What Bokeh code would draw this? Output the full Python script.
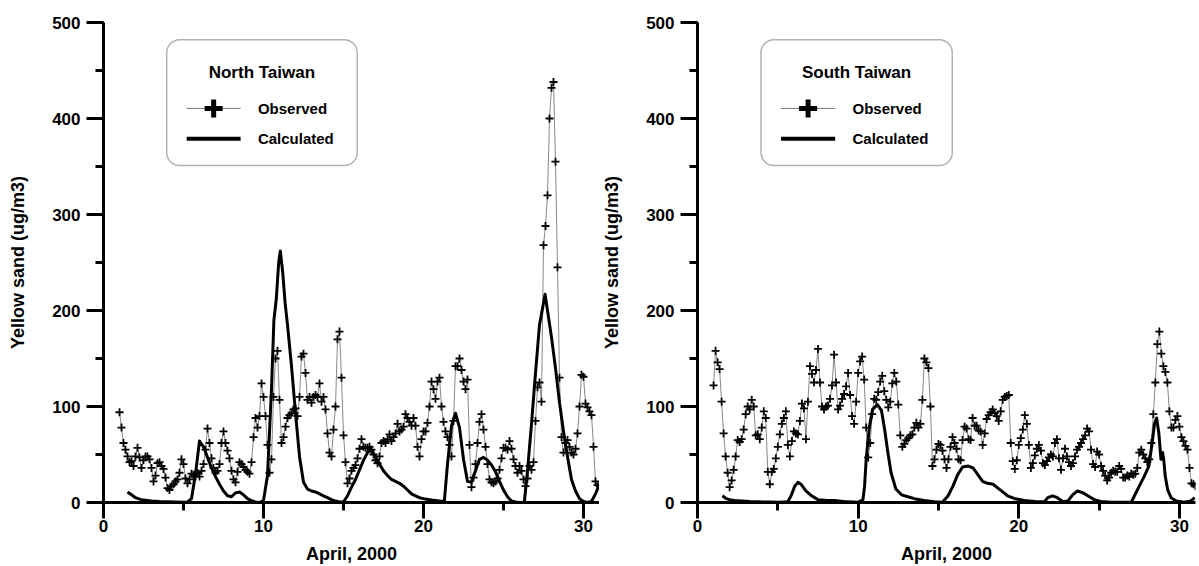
import numpy as np
from bokeh.plotting import figure
from bokeh.layouts import row
from bokeh.models import SingleIntervalTicker, Range1d, BoxAnnotation, Label
from bokeh.embed import file_html
from bokeh.resources import INLINE

# ---------------- data ----------------
x_label = "April, 2000"
y_label = "Yellow sand (ug/m3)"
panel_titles = ["North Taiwan", "South Taiwan"]
series_names = ["Observed", "Calculated"]
x_tick_interval = 10
y_tick_interval = 100

# observed: 3-hourly readings starting April 1, 00h (day 1.0)
OBS_START = 1.0
OBS_STEP = 0.125

north_obs = [
    94, 78, 62, 55, 48, 42, 43, 38,
    48, 57, 47, 36, 44, 48, 48, 45,
    36, 22, 28, 41, 42, 38, 35, 26,
    15, 13, 17, 19, 22, 24, 31, 45,
    40, 25, 20, 24, 30, 29, 27, 31,
    27, 33, 40, 55, 77, 62, 46, 36,
    31, 33, 40, 62, 74, 62, 54, 46,
    33, 24, 21, 32, 42, 40, 37, 34,
    32, 30, 42, 68, 88, 78, 90, 124,
    110, 90, 60, 31, 45, 110, 150, 158,
    107, 62, 68, 79, 88, 91, 93, 97,
    98, 90, 110, 152, 155, 135, 107, 110,
    104, 110, 112, 110, 124, 105, 110, 97,
    72, 52, 48, 76, 100, 170, 178, 130,
    70, 42, 20, 25, 33, 36, 39, 46,
    56, 66, 58, 57, 57, 58, 55, 50,
    44, 41, 48, 62, 64, 62, 66, 71,
    64, 68, 72, 82, 74, 76, 79, 92,
    88, 84, 80, 88, 80, 58, 48, 66,
    74, 74, 83, 100, 126, 118, 108, 126,
    130, 100, 84, 74, 68, 60, 48, 85,
    142, 142, 150, 138, 126, 118, 128, 60,
    16, 26, 40, 62, 84, 92, 76, 58,
    40, 24, 21, 20, 22, 25, 34, 46,
    57, 57, 55, 64, 56, 45, 38, 31,
    38, 33, 24, 17, 25, 38, 34, 42,
    85, 120, 125, 105, 268, 288, 320, 400,
    432, 438, 355, 245, 130, 68, 52, 62,
    65, 58, 52, 50, 56, 72, 100, 133,
    131, 103, 99, 95, 91, 58, 22, 18,
    17,
]

north_calc_days = [
    1.5, 1.75, 2.0, 2.25, 2.5, 2.75, 3.0, 3.5, 4.0, 4.5, 5.0, 5.25, 5.5, 5.75,
    6.0, 6.25, 6.5, 6.75, 7.0, 7.25, 7.5, 7.75, 8.0, 8.25, 8.5, 8.75, 9.0, 9.25,
    9.5, 9.75, 10.0, 10.25, 10.5, 10.65, 10.8, 10.95, 11.05, 11.2, 11.35, 11.5,
    11.75, 12.0, 12.25, 12.5, 12.75, 13.0, 13.25, 13.5, 13.75, 14.0, 14.25, 14.5,
    14.75, 15.0, 15.25, 15.5, 15.75, 16.0, 16.25, 16.5, 16.75, 17.0, 17.25, 17.5,
    17.75, 18.0, 18.25, 18.5, 18.75, 19.0, 19.25, 19.5, 19.75, 20.0, 20.5, 21.0,
    21.3, 21.5, 21.75, 22.0, 22.25, 22.5, 22.75, 23.0, 23.25, 23.5, 23.75, 24.0,
    24.25, 24.5, 24.75, 25.0, 25.25, 25.5, 25.75, 26.0, 26.3, 26.5, 26.75, 27.0,
    27.25, 27.6, 27.75, 28.0, 28.25, 28.5, 28.75, 29.0, 29.25, 29.5, 29.75, 30.0,
    30.25, 30.5, 30.75, 31.0,
]
north_calc = [
    11, 8, 5, 3.5, 2.5, 2, 1.5, 1, 0.8, 0.5, 0.3, 0.5, 4, 30,
    64, 58, 47, 36, 27, 19, 12, 7, 6, 10, 11, 8, 4, 2,
    0.5, 0, 2, 28, 118, 190, 212, 250, 262, 240, 208, 185,
    142, 93, 48, 21, 14, 12, 11, 9, 7, 5, 3, 1.5,
    0.5, 0.5, 7, 16, 24, 34, 44, 52, 55, 47, 40, 33,
    28, 24, 22, 20, 17, 13, 9, 7, 5, 4, 2.5, 1.5,
    1, 40, 80, 93, 78, 45, 22, 21, 33, 45, 47, 44,
    39, 32, 22, 13, 6, 1.5, 0.5, 0, 0, 33, 82, 135,
    185, 217, 200, 172, 140, 104, 74, 48, 24, 12, 4, 1,
    0, 1, 9, 19,
]

south_obs = [
    122, 158, 146, 139, 105, 72, 48, 31,
    16, 23, 34, 48, 65, 63, 66, 76,
    92, 100, 97, 107, 100, 70, 71, 66,
    78, 95, 88, 32, 19, 32, 35, 46,
    58, 71, 82, 88, 95, 60, 48, 64,
    74, 72, 71, 85, 103, 98, 66, 105,
    142, 134, 125, 138, 160, 125, 100, 97,
    100, 101, 108, 122, 154, 125, 97, 101,
    108, 113, 121, 135, 112, 90, 82, 105,
    135, 147, 152, 128, 78, 47, 62, 92,
    108, 107, 115, 126, 132, 116, 107, 99,
    105, 124, 135, 126, 102, 70, 58, 61,
    65, 67, 70, 71, 78, 83, 78, 82,
    107, 150, 146, 140, 100, 38, 45, 55,
    61, 60, 54, 45, 36, 45, 58, 68,
    62, 56, 45, 44, 65, 79, 77, 66,
    65, 88, 80, 80, 75, 74, 60, 72,
    87, 91, 94, 97, 93, 90, 85, 95,
    107, 110, 111, 112, 62, 43, 35, 44,
    60, 67, 76, 91, 82, 60, 36, 41,
    49, 56, 60, 54, 41, 39, 43, 47,
    50, 48, 62, 66, 46, 34, 46, 56,
    48, 42, 38, 41, 48, 55, 58, 62,
    66, 70, 77, 74, 55, 40, 37, 53,
    50, 38, 33, 28, 23, 26, 31, 33,
    32, 32, 38, 35, 26, 26, 28, 27,
    30, 29, 30, 36, 52, 55, 50, 46,
    42, 45, 62, 92, 125, 165, 178, 155,
    142, 136, 125, 95, 78, 78, 86, 90,
    79, 68, 64, 59, 55, 36, 20, 19,
    17,
]

south_calc_days = [
    1.55, 1.8, 2.0, 2.3, 2.75, 3.25, 3.75, 4.5, 5.0, 5.5, 5.65, 5.85, 6.05, 6.25,
    6.45, 6.75, 7.1, 7.5, 8.1, 8.5, 9.1, 10.0, 10.3, 10.4, 10.5, 10.7, 10.9, 11.2,
    11.45, 11.65, 11.85, 12.05, 12.35, 12.7, 13.1, 13.5, 14.1, 14.75, 15.25, 15.6,
    15.9, 16.2, 16.5, 16.85, 17.15, 17.45, 17.75, 18.05, 18.4, 18.7, 19.0, 19.3,
    19.75, 20.35, 21.0, 21.6, 21.8, 22.1, 22.4, 22.75, 23.05, 23.35, 23.65, 24.0,
    24.3, 24.7, 25.1, 25.75, 27.0, 27.2, 27.5, 27.8, 28.1, 28.3, 28.45, 28.58,
    28.72, 28.85, 28.95, 29.02, 29.12, 29.27, 29.48, 29.8, 30.3, 30.7, 30.95,
]
south_calc = [
    7, 4, 3, 2, 1.5, 1, 0.7, 0.4, 0.3, 0.5, 1.5, 8, 17, 21,
    19, 12, 7, 3, 2, 2, 1, 0.3, 3, 17, 45, 79, 97, 102,
    96, 76, 52, 31, 14, 8, 6, 4, 2, 0.7, 0.3, 7,
    17, 29, 37, 38, 36, 29, 22, 20, 19, 15, 11, 7,
    4, 2, 1, 0.7, 5, 7, 5, 0.7, 1.5, 8, 12, 10,
    7, 3, 1, 0.3, 0.3, 7, 17, 27, 38, 62, 82, 88,
    72, 45, 52, 45, 27, 13, 5, 1.5, 0.3, 1.5, 5,
]

# ---------------- styling / layout ----------------
FONT = "Liberation Sans"
FIG_H = 566
BORDER_TOP = 22
BORDER_BOTTOM = 63

# legend box layout (data units of each panel)
LEG_BOX = dict(left=3.95, right=15.86, bottom=351, top=482)
LEG_TITLE_XY = (9.9, 448)
LEG_ROW_Y = (410.5, 379)
LEG_SAMPLE_X = (5.2, 8.57)
LEG_TEXT_X = 9.65


def make_panel(title, obs_vals, calc_days, calc_vals, width, b_left, b_right):
    obs_days = [OBS_START + i * OBS_STEP for i in range(len(obs_vals))]
    p = figure(width=width, height=FIG_H, x_range=Range1d(0, 31), y_range=Range1d(0, 500),
               output_backend="svg", toolbar_location=None,
               min_border_left=b_left, min_border_right=b_right,
               min_border_top=BORDER_TOP, min_border_bottom=BORDER_BOTTOM)
    p.outline_line_color = None
    p.grid.visible = False
    p.background_fill_color = "white"
    p.border_fill_color = "white"

    p.xaxis.ticker = SingleIntervalTicker(interval=x_tick_interval, num_minor_ticks=2)
    p.yaxis.ticker = SingleIntervalTicker(interval=y_tick_interval, num_minor_ticks=2)
    for ax in (p.xaxis[0], p.yaxis[0]):
        ax.axis_line_width = 3
        ax.axis_line_color = "black"
        ax.major_tick_line_width = 3
        ax.minor_tick_line_width = 3
        ax.major_tick_line_color = "black"
        ax.minor_tick_line_color = "black"
        ax.major_tick_in = 0
        ax.minor_tick_in = 0
        ax.minor_tick_out = 8
        ax.major_label_text_font = FONT
        ax.major_label_text_font_style = "bold"
        ax.major_label_text_font_size = "17px"
        ax.major_label_text_color = "black"
        ax.axis_label_text_font = FONT
        ax.axis_label_text_font_style = "bold"
        ax.axis_label_text_font_size = "18px"
        ax.axis_label_text_color = "black"
    p.xaxis.major_tick_out = 16
    p.yaxis.major_tick_out = 17
    p.xaxis.major_label_standoff = 1
    p.yaxis.major_label_standoff = 6
    p.xaxis.axis_label = x_label
    p.yaxis.axis_label = y_label
    p.xaxis.axis_label_standoff = 9
    p.yaxis.axis_label_standoff = 21

    # observed
    p.line(obs_days, obs_vals, line_width=0.7, line_color="#555555")
    p.scatter(obs_days, obs_vals, marker="cross", size=8, line_width=1.8, line_color="black")
    # calculated
    p.line(calc_days, calc_vals, line_width=3, line_color="black", line_join="round")

    # legend box
    box = BoxAnnotation(left=LEG_BOX["left"], right=LEG_BOX["right"],
                        bottom=LEG_BOX["bottom"], top=LEG_BOX["top"],
                        fill_color="white", fill_alpha=1.0, line_color="black",
                        line_width=1.5, border_radius=13, level="underlay")
    p.add_layout(box)
    p.add_layout(Label(x=LEG_TITLE_XY[0], y=LEG_TITLE_XY[1], text=title,
                       text_align="center", text_baseline="middle", text_color="black",
                       text_font=FONT, text_font_style="bold", text_font_size="17px"))
    # observed sample
    p.line(list(LEG_SAMPLE_X), [LEG_ROW_Y[0]] * 2, line_width=0.8, line_color="#555555")
    p.scatter([sum(LEG_SAMPLE_X) / 2], [LEG_ROW_Y[0]], marker="cross", size=18,
              line_width=5, line_color="black")
    # calculated sample
    p.line(list(LEG_SAMPLE_X), [LEG_ROW_Y[1]] * 2, line_width=4, line_color="black")
    for name, yy in zip(series_names, LEG_ROW_Y):
        p.add_layout(Label(x=LEG_TEXT_X, y=yy, text=name, text_align="left",
                           text_baseline="middle", text_font=FONT, text_color="black",
                           text_font_style="bold", text_font_size="15px"))
    return p


left = make_panel(panel_titles[0], north_obs, north_calc_days, north_calc, 599, 103, 0)
right = make_panel(panel_titles[1], south_obs, south_calc_days, south_calc, 600, 97, 4)

layout = row(left, right)
open("out.html", "w").write(file_html(layout, INLINE))
